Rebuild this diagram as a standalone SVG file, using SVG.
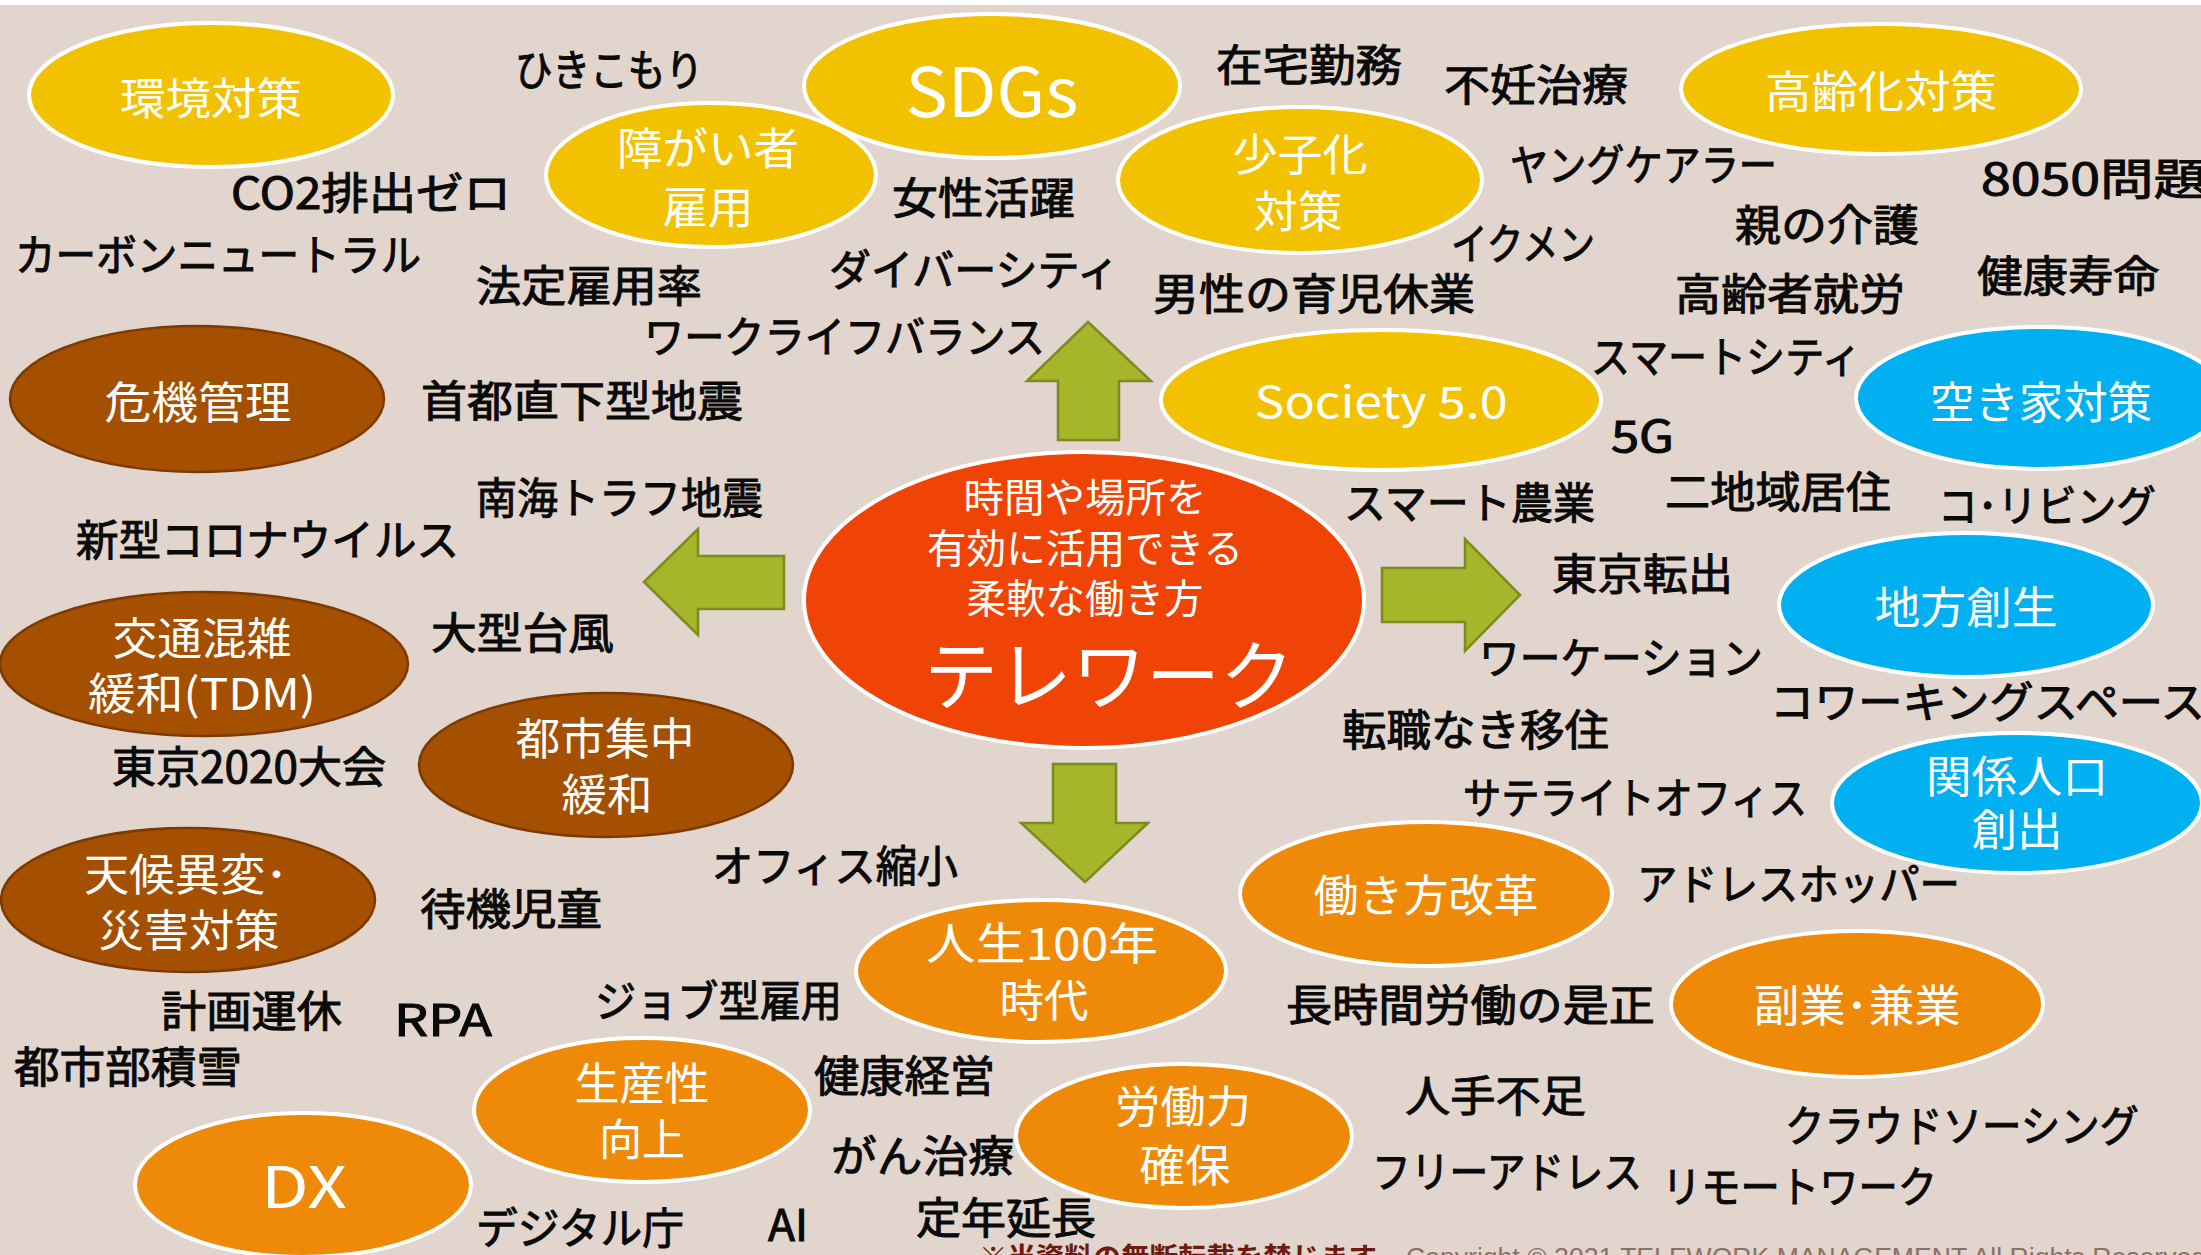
<svg xmlns="http://www.w3.org/2000/svg" width="2201" height="1255" viewBox="0 0 2201 1255">
<style>
.bg{fill:#e2d5cd}
.ye{fill:#f2c200;stroke:#ffffff;stroke-width:4}
.br{fill:#a54f00;stroke:#7d3a00;stroke-width:2.5}
.bu{fill:#00b0f0;stroke:#ffffff;stroke-width:4}
.or{fill:#ef8a08;stroke:#ffffff;stroke-width:4}
.ce{fill:#f04406;stroke:#ffffff;stroke-width:4}
.arr{fill:#a6b62a;stroke:#7c8b1e;stroke-width:2.5;stroke-linejoin:miter}
text{font-family:"Noto Sans CJK JP","Noto Sans",sans-serif}
.lb{font-size:43px;fill:#0a0a0a;stroke:#0a0a0a;stroke-width:1}
.wt{font-size:44px;fill:#ffffff;text-anchor:middle}
.ct{font-size:40px;fill:#ffffff;text-anchor:middle}
</style>
<rect x="0" y="0" width="2201" height="1255" fill="#ffffff"/>
<rect class="bg" x="0" y="5" width="2201" height="1250"/>

<g id="connectors">
<polygon class="arr" points="1088,322 1151,381 1119,381 1119,440 1058,440 1058,381 1027,381"/>
<polygon class="arr" points="644,582 698,529 698,556 784,556 784,609 698,609 698,635"/>
<polygon class="arr" points="1053,764 1116,764 1116,823 1148,823 1085,882 1021,823 1053,823"/>
<polygon class="arr" points="1382,568 1465,568 1465,539 1520,595 1465,651 1465,622 1382,622"/>
</g>

<g id="n-kankyo"><ellipse class="ye" cx="211" cy="95" rx="182" ry="72"/><text class="wt" x="211" y="115" textLength="182" lengthAdjust="spacingAndGlyphs">環境対策</text></g>
<g id="n-sdgs"><ellipse class="ye" cx="992" cy="86" rx="188" ry="72"/><text class="wt" x="992" y="117" style="font-size:68px" textLength="173" lengthAdjust="spacingAndGlyphs">SDGs</text></g>
<g id="n-shogai"><ellipse class="ye" cx="711" cy="175" rx="165" ry="72"/><text class="wt"><tspan x="708" y="165" textLength="182" lengthAdjust="spacingAndGlyphs">障がい者</tspan><tspan x="708" y="224" textLength="91" lengthAdjust="spacingAndGlyphs">雇用</tspan></text></g>
<g id="n-shoshika"><ellipse class="ye" cx="1300" cy="180" rx="182" ry="73"/><text class="wt"><tspan x="1300" y="171" textLength="135" lengthAdjust="spacingAndGlyphs">少子化</tspan><tspan x="1298" y="228" textLength="89" lengthAdjust="spacingAndGlyphs">対策</tspan></text></g>
<g id="n-koreika"><ellipse class="ye" cx="1881" cy="89" rx="200" ry="65"/><text class="wt" x="1881" y="108" textLength="232" lengthAdjust="spacingAndGlyphs">高齢化対策</text></g>
<g id="n-society"><ellipse class="ye" cx="1381" cy="400" rx="220" ry="70"/><text class="wt" x="1381" y="418" textLength="253" lengthAdjust="spacingAndGlyphs">Society 5.0</text></g>

<g id="n-kiki"><ellipse class="br" cx="197" cy="399" rx="187" ry="73"/><text class="wt" x="198" y="419" textLength="187" lengthAdjust="spacingAndGlyphs">危機管理</text></g>
<g id="n-kotsu"><ellipse class="br" cx="204" cy="664" rx="204" ry="72"/><text class="wt"><tspan x="202" y="655" textLength="179" lengthAdjust="spacingAndGlyphs">交通混雑</tspan><tspan x="202" y="710" textLength="228" lengthAdjust="spacingAndGlyphs">緩和(TDM)</tspan></text></g>
<g id="n-toshi"><ellipse class="br" cx="606" cy="765" rx="187" ry="72"/><text class="wt"><tspan x="605" y="755" textLength="179" lengthAdjust="spacingAndGlyphs">都市集中</tspan><tspan x="607" y="811" textLength="91" lengthAdjust="spacingAndGlyphs">緩和</tspan></text></g>
<g id="n-tenko"><ellipse class="br" cx="188" cy="900" rx="187" ry="72"/><text class="wt"><tspan x="186" y="891" textLength="204" lengthAdjust="spacingAndGlyphs">天候異変･</tspan><tspan x="189" y="947" textLength="181" lengthAdjust="spacingAndGlyphs">災害対策</tspan></text></g>

<g id="n-akiya"><ellipse class="bu" cx="2041" cy="398" rx="185" ry="71"/><text class="wt" x="2041" y="419" textLength="222" lengthAdjust="spacingAndGlyphs">空き家対策</text></g>
<g id="n-chiho"><ellipse class="bu" cx="1966" cy="605" rx="187" ry="72"/><text class="wt" x="1966" y="624" textLength="183" lengthAdjust="spacingAndGlyphs">地方創生</text></g>
<g id="n-kankei"><ellipse class="bu" cx="2017" cy="803" rx="185" ry="70"/><text class="wt"><tspan x="2017" y="793" textLength="182" lengthAdjust="spacingAndGlyphs">関係人口</tspan><tspan x="2017" y="846" textLength="91" lengthAdjust="spacingAndGlyphs">創出</tspan></text></g>

<g id="n-hatarakikata"><ellipse class="or" cx="1426" cy="894" rx="186" ry="72"/><text class="wt" x="1426" y="912" textLength="225" lengthAdjust="spacingAndGlyphs">働き方改革</text></g>
<g id="n-fukugyo"><ellipse class="or" cx="1857" cy="1004" rx="186" ry="73"/><text class="wt" x="1857" y="1022" textLength="207" lengthAdjust="spacingAndGlyphs">副業･兼業</text></g>
<g id="n-jinsei"><ellipse class="or" cx="1041" cy="971" rx="185" ry="71"/><text class="wt"><tspan x="1042" y="960" textLength="232" lengthAdjust="spacingAndGlyphs">人生100年</tspan><tspan x="1044" y="1017" textLength="89" lengthAdjust="spacingAndGlyphs">時代</tspan></text></g>
<g id="n-seisansei"><ellipse class="or" cx="642" cy="1110" rx="168" ry="72"/><text class="wt"><tspan x="642" y="1100" textLength="135" lengthAdjust="spacingAndGlyphs">生産性</tspan><tspan x="642" y="1156" textLength="86" lengthAdjust="spacingAndGlyphs">向上</tspan></text></g>
<g id="n-rodoryoku"><ellipse class="or" cx="1184" cy="1136" rx="168" ry="72"/><text class="wt"><tspan x="1183" y="1123" textLength="136" lengthAdjust="spacingAndGlyphs">労働力</tspan><tspan x="1185" y="1182" textLength="91" lengthAdjust="spacingAndGlyphs">確保</tspan></text></g>
<g id="n-dx"><ellipse class="or" cx="303" cy="1185" rx="168" ry="72"/><text class="wt" x="304" y="1208" style="font-size:57px" textLength="86" lengthAdjust="spacingAndGlyphs">DX</text></g>

<g id="n-telework"><ellipse class="ce" cx="1084" cy="600" rx="280" ry="148"/>
<text class="ct"><tspan x="1085" y="512" textLength="243" lengthAdjust="spacingAndGlyphs">時間や場所を</tspan><tspan x="1085" y="563" textLength="316" lengthAdjust="spacingAndGlyphs">有効に活用できる</tspan><tspan x="1085" y="613" textLength="237" lengthAdjust="spacingAndGlyphs">柔軟な働き方</tspan><tspan x="1109" y="704" style="font-size:76px" textLength="370" lengthAdjust="spacingAndGlyphs">テレワーク</tspan></text>
</g>

<g id="labels">
<text class="lb" x="515" y="86" textLength="188" lengthAdjust="spacingAndGlyphs">ひきこもり</text>
<text class="lb" x="231" y="209" textLength="280" lengthAdjust="spacingAndGlyphs">CO2排出ゼロ</text>
<text class="lb" x="15" y="271" textLength="406" lengthAdjust="spacingAndGlyphs">カーボンニュートラル</text>
<text class="lb" x="476" y="302" textLength="226" lengthAdjust="spacingAndGlyphs">法定雇用率</text>
<text class="lb" x="892" y="214" textLength="183" lengthAdjust="spacingAndGlyphs">女性活躍</text>
<text class="lb" x="829" y="286" textLength="290" lengthAdjust="spacingAndGlyphs">ダイバーシティ</text>
<text class="lb" x="644" y="353" textLength="401" lengthAdjust="spacingAndGlyphs">ワークライフバランス</text>
<text class="lb" x="421" y="417" textLength="322" lengthAdjust="spacingAndGlyphs">首都直下型地震</text>
<text class="lb" x="1216" y="81" textLength="186" lengthAdjust="spacingAndGlyphs">在宅勤務</text>
<text class="lb" x="1444" y="101" textLength="184" lengthAdjust="spacingAndGlyphs">不妊治療</text>
<text class="lb" x="1510" y="181" textLength="267" lengthAdjust="spacingAndGlyphs">ヤングケアラー</text>
<text class="lb" x="1981" y="195" textLength="226" lengthAdjust="spacingAndGlyphs">8050問題</text>
<text class="lb" x="1735" y="241" textLength="184" lengthAdjust="spacingAndGlyphs">親の介護</text>
<text class="lb" x="1451" y="260" textLength="144" lengthAdjust="spacingAndGlyphs">イクメン</text>
<text class="lb" x="1977" y="292" textLength="182" lengthAdjust="spacingAndGlyphs">健康寿命</text>
<text class="lb" x="1153" y="310" textLength="322" lengthAdjust="spacingAndGlyphs">男性の育児休業</text>
<text class="lb" x="1675" y="310" textLength="230" lengthAdjust="spacingAndGlyphs">高齢者就労</text>
<text class="lb" x="1591" y="373" textLength="270" lengthAdjust="spacingAndGlyphs">スマートシティ</text>
<text class="lb" x="476" y="514" textLength="287" lengthAdjust="spacingAndGlyphs">南海トラフ地震</text>
<text class="lb" x="76" y="556" textLength="383" lengthAdjust="spacingAndGlyphs">新型コロナウイルス</text>
<text class="lb" x="431" y="649" textLength="183" lengthAdjust="spacingAndGlyphs">大型台風</text>
<text class="lb" x="112" y="783" textLength="274" lengthAdjust="spacingAndGlyphs">東京2020大会</text>
<text class="lb" x="1611" y="452" textLength="63" lengthAdjust="spacingAndGlyphs">5G</text>
<text class="lb" x="1344" y="519" textLength="251" lengthAdjust="spacingAndGlyphs">スマート農業</text>
<text class="lb" x="1665" y="508" textLength="226" lengthAdjust="spacingAndGlyphs">二地域居住</text>
<text class="lb" x="1938" y="522" textLength="218" lengthAdjust="spacingAndGlyphs">コ･リビング</text>
<text class="lb" x="1552" y="590" textLength="181" lengthAdjust="spacingAndGlyphs">東京転出</text>
<text class="lb" x="1479" y="674" textLength="284" lengthAdjust="spacingAndGlyphs">ワーケーション</text>
<text class="lb" x="1770" y="718" textLength="435" lengthAdjust="spacingAndGlyphs">コワーキングスペース</text>
<text class="lb" x="1342" y="746" textLength="267" lengthAdjust="spacingAndGlyphs">転職なき移住</text>
<text class="lb" x="1463" y="814" textLength="344" lengthAdjust="spacingAndGlyphs">サテライトオフィス</text>
<text class="lb" x="712" y="882" textLength="246" lengthAdjust="spacingAndGlyphs">オフィス縮小</text>
<text class="lb" x="420" y="925" textLength="182" lengthAdjust="spacingAndGlyphs">待機児童</text>
<text class="lb" x="161" y="1027" textLength="181" lengthAdjust="spacingAndGlyphs">計画運休</text>
<text class="lb" x="394" y="1036" textLength="98" lengthAdjust="spacingAndGlyphs">RPA</text>
<text class="lb" x="595" y="1017" textLength="247" lengthAdjust="spacingAndGlyphs">ジョブ型雇用</text>
<text class="lb" x="14" y="1083" textLength="228" lengthAdjust="spacingAndGlyphs">都市部積雪</text>
<text class="lb" x="814" y="1092" textLength="181" lengthAdjust="spacingAndGlyphs">健康経営</text>
<text class="lb" x="831" y="1172" textLength="183" lengthAdjust="spacingAndGlyphs">がん治療</text>
<text class="lb" x="476" y="1244" textLength="208" lengthAdjust="spacingAndGlyphs">デジタル庁</text>
<text class="lb" x="768" y="1241" textLength="40" lengthAdjust="spacingAndGlyphs">AI</text>
<text class="lb" x="916" y="1234" textLength="180" lengthAdjust="spacingAndGlyphs">定年延長</text>
<text class="lb" x="1637" y="900" textLength="323" lengthAdjust="spacingAndGlyphs">アドレスホッパー</text>
<text class="lb" x="1286" y="1021" textLength="369" lengthAdjust="spacingAndGlyphs">長時間労働の是正</text>
<text class="lb" x="1405" y="1112" textLength="181" lengthAdjust="spacingAndGlyphs">人手不足</text>
<text class="lb" x="1785" y="1142" textLength="354" lengthAdjust="spacingAndGlyphs">クラウドソーシング</text>
<text class="lb" x="1372" y="1188" textLength="270" lengthAdjust="spacingAndGlyphs">フリーアドレス</text>
<text class="lb" x="1662" y="1203" textLength="275" lengthAdjust="spacingAndGlyphs">リモートワーク</text>
</g>

<g id="footer">
<text x="979" y="1268" style="font-size:28px;fill:#6e1a0e;font-weight:bold" textLength="398" lengthAdjust="spacingAndGlyphs">※当資料の無断転載を禁じます</text>
<text x="1406" y="1266" style="font-size:26px;fill:#8c7064;font-family:'Liberation Sans',sans-serif" textLength="800" lengthAdjust="spacingAndGlyphs">Copyright © 2021 TELEWORK MANAGEMENT All Rights Reserved</text>
</g>
</svg>
